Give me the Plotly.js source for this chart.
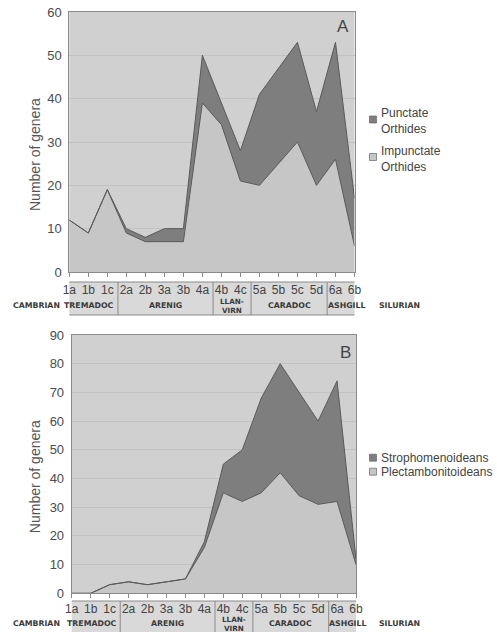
<!DOCTYPE html>
<html>
<head>
<meta charset="utf-8">
<script src="https://cdn.plot.ly/plotly-3.0.1.min.js"></script>
<style>html,body{margin:0;padding:0;background:#fff;}#chart{width:497px;height:632px;}</style>
</head>
<body>
<div id="chart"></div>
<script>
// ---- data ----
const stages = ['1a','1b','1c','2a','2b','3a','3b','4a','4b','4c','5a','5b','5c','5d','6a','6b'];
const impunctateOrthides = [12, 9, 19, 9, 7, 7, 7, 39, 34, 21, 20, 25, 30, 20, 26, 6];
const punctateOrthides   = [0, 0, 0, 1, 1, 3, 3, 11, 5, 7, 21, 22, 23, 17, 27, 11];
const plectambonitoideans = [0, 0, 3, 4, 3, 4, 5, 16, 35, 32, 35, 42, 34, 31, 32, 10];
const strophomenoideans   = [0, 0, 0, 0, 0, 0, 0, 2, 10, 18, 33, 38, 36, 29, 42, 2];
const seriesNames = ['TREMADOC', 'ARENIG', 'LLAN-<br>VIRN', 'CARADOC', 'ASHGILL'];
const seriesSpans = [3, 5, 2, 4, 2];
const periodBefore = 'CAMBRIAN';
const periodAfter = 'SILURIAN';
const panelLabels = ['A', 'B'];
const legendA = ['Punctate<br>Orthides', 'Impunctate<br>Orthides'];
const legendB = ['Strophomenoideans', 'Plectambonitoideans'];

// ---- style ----
const W = 497, H = 632;
const FONT = 'Arial, "Liberation Sans", sans-serif';
const SMALL = '"DejaVu Sans", sans-serif';
const LIGHT = '#c6c6c6', DARK = '#7e7e7e', LINE = '#5a5a5a', BG = '#d0d0d0';
const TXT = '#444444';
const px = v => v / W, py = v => 1 - v / H;

const panels = [
  {xa: 'x', ya: 'y', xd: [69.3, 354.5], yd: [12, 272], ymax: 60, standoff: 3,
   boxTop: 282, boxBot: 315, labelY: 305, twoLineDy: 1, letter: [343, 26], legendY: [121, 158.5], markerDy: -1.5, legendText: legendA,
   lower: impunctateOrthides, upper: punctateOrthides, names: ['Impunctate Orthides', 'Punctate Orthides']},
  {xa: 'x2', ya: 'y2', xd: [71.7, 356], yd: [335, 593.3], ymax: 90, standoff: 0,
   boxTop: 601, boxBot: 634, labelY: 623, twoLineDy: 1, letter: [345, 352], legendY: [457.7, 471.7], markerDy: 0, legendText: legendB,
   lower: plectambonitoideans, upper: strophomenoideans, names: ['Plectambonitoideans', 'Strophomenoideans']}
];

const traces = [];
const layout = {
  width: W, height: H, margin: {l: 0, r: 0, t: 0, b: 0},
  paper_bgcolor: '#ffffff', plot_bgcolor: BG, showlegend: false,
  font: {family: FONT, color: TXT},
  shapes: [], annotations: []
};

panels.forEach((p, k) => {
  const sg = 'stack' + k;
  traces.push({x: stages, y: p.lower, type: 'scatter', mode: 'lines', stackgroup: sg,
    name: p.names[0], fillcolor: LIGHT, line: {color: LINE, width: 1}, xaxis: p.xa, yaxis: p.ya});
  traces.push({x: stages, y: p.upper, type: 'scatter', mode: 'lines', stackgroup: sg,
    name: p.names[1], fillcolor: DARK, line: {color: LINE, width: 1}, xaxis: p.xa, yaxis: p.ya});

  const xk = p.xa === 'x' ? 'xaxis' : 'xaxis2';
  const yk = p.ya === 'y' ? 'yaxis' : 'yaxis2';
  layout[xk] = {
    domain: [px(p.xd[0]), px(p.xd[1])], anchor: p.ya, type: 'category',
    range: [0, stages.length - 1], showgrid: false, zeroline: false,
    showline: true, linecolor: '#8a8a8a', linewidth: 1, mirror: true,
    ticks: 'outside', ticklen: 4, tickcolor: '#8a8a8a',
    tickfont: {family: FONT, size: 12, color: TXT}, ticklabelstandoff: p.standoff, automargin: false
  };
  layout[yk] = {
    domain: [py(p.yd[1]), py(p.yd[0])], anchor: p.xa, range: [0, p.ymax], dtick: 10,
    showgrid: true, gridcolor: '#c2c2c2', gridwidth: 1, zeroline: false,
    showline: true, linecolor: '#8a8a8a', linewidth: 1, mirror: true, ticks: '',
    tickfont: {family: FONT, size: 13, color: '#4c4c4c'}, ticklabelstandoff: 4, automargin: false
  };

  // y title
  layout.annotations.push({xref: 'paper', yref: 'paper', x: px(35), y: py((p.yd[0] + p.yd[1]) / 2 + 13),
    text: 'Number of genera', textangle: -90, showarrow: false, xanchor: 'center', yanchor: 'middle',
    font: {family: FONT, size: 14, color: '#555'}});
  // panel letter
  layout.annotations.push({xref: 'paper', yref: 'paper', x: px(p.letter[0]), y: py(p.letter[1]),
    text: panelLabels[k], showarrow: false, xanchor: 'center', yanchor: 'middle',
    font: {family: FONT, size: 17, color: TXT}});

  // stratigraphic box
  const sh = 0.06;
  layout.shapes.push({type: 'rect', layer: 'below', xref: p.xa, yref: 'paper',
    x0: -0.5 + sh, x1: stages.length - 0.5 + sh, y0: py(p.boxBot), y1: py(p.boxTop),
    fillcolor: '#d9d9d9', line: {color: '#8a8a8a', width: 1}});
  let start = 0;
  seriesSpans.forEach((n, i) => {
    if (i > 0) {
      layout.shapes.push({type: 'line', xref: p.xa, yref: 'paper', x0: start - 0.5 + sh, x1: start - 0.5 + sh,
        y0: py(p.boxBot), y1: py(p.boxTop), line: {color: '#8a8a8a', width: 1}});
    }
    const twoLine = seriesNames[i].indexOf('<br>') >= 0;
    layout.annotations.push({xref: p.xa, yref: 'paper', x: start + (n - 1) / 2 + sh, y: py(p.labelY + (twoLine ? p.twoLineDy : 0)),
      text: '<b>' + seriesNames[i] + '</b>', showarrow: false, xanchor: 'center', yanchor: 'middle',
      font: {family: SMALL, size: twoLine ? 7.2 : 7.8, color: '#3a3a3a'}});
    start += n;
  });
  layout.annotations.push({xref: 'paper', yref: 'paper', x: px(36), y: py(p.labelY),
    text: '<b>' + periodBefore + '</b>', showarrow: false, xanchor: 'center', yanchor: 'middle',
    font: {family: SMALL, size: 7.8, color: '#3a3a3a'}});
  layout.annotations.push({xref: 'paper', yref: 'paper', x: px(399), y: py(p.labelY),
    text: '<b>' + periodAfter + '</b>', showarrow: false, xanchor: 'center', yanchor: 'middle',
    font: {family: SMALL, size: 7.8, color: '#3a3a3a'}});

  // legend (upper series first)
  const cols = [DARK, LIGHT];
  [0, 1].forEach(j => {
    const cy = p.legendY[j];
    const my = cy + p.markerDy;
    layout.shapes.push({type: 'rect', xref: 'paper', yref: 'paper',
      x0: px(369.5), x1: px(376.5), y0: py(my + 3.5), y1: py(my - 3.5),
      fillcolor: cols[j], line: {color: '#666', width: 0.7}});
    layout.annotations.push({xref: 'paper', yref: 'paper', x: px(379), y: py(cy),
      text: p.legendText[j], showarrow: false, xanchor: 'left', yanchor: 'middle', align: 'left',
      font: {family: FONT, size: 12, color: TXT}});
  });
});

Plotly.newPlot('chart', traces, layout, {displayModeBar: false, staticPlot: true});
</script>
</body>
</html>
